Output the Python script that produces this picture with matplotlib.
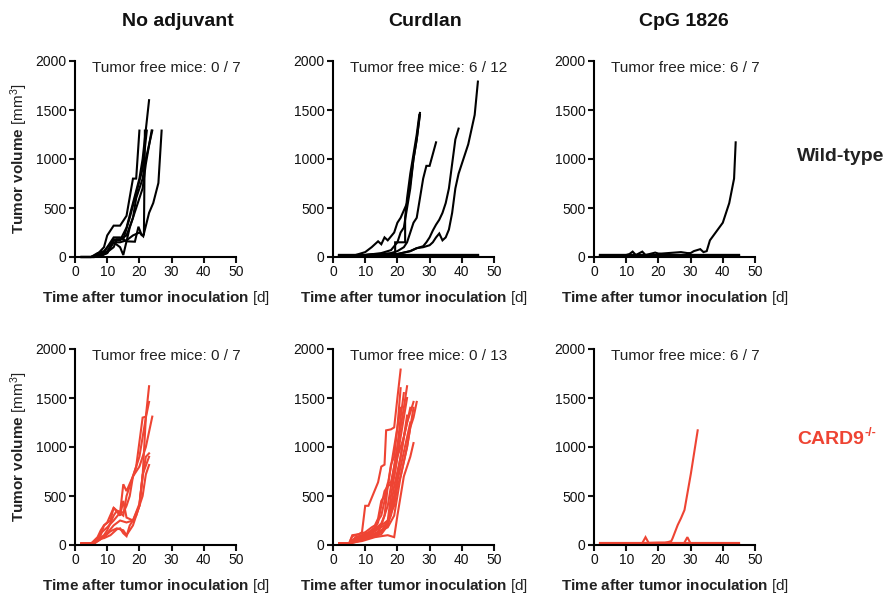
import matplotlib
matplotlib.use("Agg")
import matplotlib.pyplot as plt

plt.rcParams['font.family'] = ['Liberation Sans', 'DejaVu Sans']
plt.rcParams['mathtext.fontset'] = 'custom'
plt.rcParams['mathtext.rm'] = 'Liberation Sans'
plt.rcParams['mathtext.bf'] = 'Liberation Sans:bold'
plt.rcParams['mathtext.it'] = 'Liberation Sans:italic'

# ---------------- data ----------------
column_titles = ["No adjuvant", "Curdlan", "CpG 1826"]
row_labels = ["Wild-type", "CARD9"]
row_label_sup = ["", "-/-"]
tumor_free = [["0 / 7", "6 / 12", "6 / 7"], ["0 / 7", "0 / 13", "6 / 7"]]
x_ticks = [0, 10, 20, 30, 40, 50]
y_ticks = [0, 500, 1000, 1500, 2000]

# Wild-type, no adjuvant (7 mice)
wt_none_days = [
    [2, 5, 7, 9, 10, 12, 14, 16, 18, 19, 20],
    [2, 5, 7, 9, 12, 14, 16, 18.6, 19.7, 20.7, 21.4, 21.7],
    [2, 5, 7, 9, 12, 14, 16, 18, 20, 21, 23],
    [2, 6, 8, 10, 12, 13, 15, 17, 19, 21, 22.3],
    [2, 6, 8, 10, 12, 14, 15, 17, 19, 21, 22, 23.8],
    [2, 6, 8, 10, 12, 14, 16, 18, 19, 21, 22, 24],
    [2, 6, 8, 10, 12, 14, 16, 18, 20, 21.2, 23, 24.3, 25.9, 26.9],
]
wt_none_vols = [
    [0, 0, 30, 100, 220, 320, 320, 420, 800, 800, 1290],
    [0, 0, 20, 50, 200, 200, 160, 156, 309, 224, 230, 1290],
    [0, 0, 40, 60, 170, 170, 300, 550, 800, 1000, 1600],
    [0, 0, 10, 50, 100, 180, 180, 400, 650, 900, 1290],
    [0, 0, 20, 40, 150, 100, 20, 300, 500, 700, 950, 1290],
    [0, 0, 10, 40, 180, 180, 220, 400, 600, 800, 1000, 1290],
    [0, 0, 20, 60, 150, 150, 170, 220, 250, 211, 450, 551, 755, 1290],
]

# Wild-type, Curdlan (12 mice)
wt_curd_days = [
    [2, 7, 10, 12, 14, 15, 16, 17, 19, 20, 21, 23, 24, 25, 26, 27],
    [2, 10, 15, 18, 20, 21, 22, 23, 24, 25, 26, 27],
    [2, 10, 17, 19.3, 19.3, 22.4, 22.4, 23, 24, 25, 26, 26.8],
    [2, 10, 15, 18, 20, 22, 23, 24, 25, 26, 27, 28, 29, 30, 31, 32],
    [2, 10, 20, 24, 26, 28, 29, 30, 31, 32, 33, 34, 35, 36, 37, 38, 39],
    [2, 10, 20, 24, 26, 28, 30, 31, 32, 33, 34, 35, 36, 37, 38, 39, 40, 42, 44, 45],
    [2, 15, 30, 45],
    [2, 15, 30, 45],
    [2, 15, 30, 45],
    [2, 15, 30, 45],
    [2, 15, 30, 45],
    [2, 15, 30, 45],
]
wt_curd_vols = [
    [10, 20, 50, 100, 160, 130, 200, 170, 250, 350, 400, 550, 750, 1000, 1200, 1450],
    [10, 20, 40, 70, 150, 250, 300, 500, 700, 1000, 1200, 1470],
    [10, 20, 30, 30, 150, 150, 400, 600, 850, 1050, 1250, 1450],
    [10, 20, 30, 40, 60, 100, 150, 250, 350, 400, 600, 800, 930, 930, 1050, 1170],
    [10, 20, 30, 60, 90, 110, 150, 200, 270, 330, 380, 450, 550, 700, 950, 1200, 1310],
    [10, 20, 30, 60, 90, 100, 120, 150, 200, 240, 170, 200, 280, 450, 700, 850, 950, 1150, 1450, 1790],
    [15, 15, 15, 15],
    [20, 20, 20, 20],
    [25, 25, 25, 25],
    [18, 18, 18, 18],
    [22, 22, 22, 22],
    [12, 12, 12, 12],
]

# Wild-type, CpG 1826 (7 mice)
wt_cpg_days = [
    [2, 10, 11, 12, 13, 15, 16, 19, 20, 21, 25, 27, 28, 29, 30, 31, 33, 34, 35, 36, 38, 40, 42, 43.5, 44],
    [2, 15, 30, 45],
    [2, 15, 30, 45],
    [2, 15, 30, 45],
    [2, 15, 30, 45],
    [2, 15, 30, 45],
    [2, 15, 30, 45],
]
wt_cpg_vols = [
    [20, 20, 30, 55, 20, 55, 20, 45, 35, 35, 45, 50, 45, 40, 40, 60, 80, 50, 60, 170, 260, 350, 550, 800, 1170],
    [15, 15, 15, 15],
    [20, 20, 20, 20],
    [25, 25, 25, 25],
    [18, 18, 18, 18],
    [22, 22, 22, 22],
    [12, 12, 12, 12],
]

# CARD9-/-, no adjuvant (7 mice)
ko_none_days = [
    [2, 5, 7, 8, 9, 10, 12, 13, 15, 16, 17, 19, 21, 22, 23],
    [2, 5, 7, 8, 10, 12, 14, 15, 16, 18, 20, 21, 22, 23],
    [2, 5, 7, 9, 10, 12, 13, 15, 16, 17, 18, 20, 22, 24],
    [2, 5, 7, 9, 11, 13, 15, 16, 18, 20, 21, 22, 23],
    [2, 6, 7, 9, 11, 13, 14, 15, 16, 17, 19, 21, 22, 23],
    [2, 6, 8, 9, 11, 12, 14, 15, 16, 18, 20, 21, 23],
    [2, 6, 8, 10, 12, 14, 16, 18, 20, 21, 22],
]
ko_none_vols = [
    [15, 15, 80, 150, 200, 230, 380, 350, 300, 500, 600, 800, 1300, 1310, 1620],
    [15, 15, 60, 120, 180, 250, 330, 620, 550, 700, 900, 1100, 1300, 1460],
    [15, 15, 50, 100, 150, 300, 350, 330, 400, 500, 700, 800, 1000, 1310],
    [15, 15, 40, 80, 140, 170, 150, 100, 200, 400, 700, 900, 935],
    [15, 15, 60, 70, 100, 160, 170, 120, 90, 200, 300, 500, 720, 816],
    [15, 15, 100, 200, 250, 380, 300, 450, 280, 250, 400, 720, 900],
    [15, 15, 60, 120, 200, 250, 230, 250, 420, 700, 1300],
]

# CARD9-/-, Curdlan (13 mice)
ko_curd_days = [
    [2, 5, 6, 8, 9, 10, 11, 12, 13, 14, 15, 16, 16.5, 18, 19, 20, 21],
    [2, 5, 6, 8, 10, 12, 13, 14, 15, 16, 17, 18, 19, 20, 21, 22, 23],
    [2, 5, 7, 9, 11, 13, 14, 15, 16, 17, 18, 19, 20, 21],
    [2, 5, 7, 9, 11, 13, 15, 17, 18, 19, 20, 21, 22, 23, 24, 25],
    [2, 5, 7, 9, 11, 13, 15, 17, 19, 20, 21, 22, 23, 24, 25, 26],
    [2, 5, 7, 9, 11, 13, 15, 17, 18, 19, 20, 21, 22, 23],
    [2, 5, 7, 9, 11, 13, 15, 17, 18, 19, 20, 21, 22, 23, 24, 25],
    [2, 5, 7, 9, 11, 13, 15, 16, 17, 18, 19, 20, 21, 22, 23],
    [2, 5, 7, 9, 11, 13, 14, 15, 16, 17, 18, 19, 20, 21, 22],
    [2, 5, 7, 9, 11, 13, 15, 17, 18, 19, 20, 21, 22, 23, 24],
    [2, 5, 7, 9, 11, 13, 15, 17, 19, 20, 21, 22, 23, 24, 25],
    [2, 5, 7, 9, 11, 13, 14, 15, 16, 17, 18, 19, 20, 21],
    [2, 5, 7, 9, 11, 12, 13, 14, 15, 16, 17, 18, 19, 20, 21, 22, 23, 24],
]
ko_curd_vols = [
    [15, 15, 100, 110, 130, 400, 400, 480, 560, 640, 800, 820, 1170, 1180, 1200, 1500, 1790],
    [15, 15, 90, 110, 130, 180, 200, 270, 450, 500, 630, 640, 800, 1000, 1200, 1400, 1620],
    [15, 15, 80, 100, 120, 170, 230, 400, 550, 600, 820, 900, 1200, 1600],
    [15, 15, 50, 80, 100, 120, 150, 200, 400, 600, 750, 900, 1100, 1250, 1350, 1460],
    [15, 15, 40, 60, 80, 100, 150, 180, 300, 500, 700, 850, 1000, 1200, 1300, 1460],
    [15, 15, 30, 50, 70, 90, 110, 200, 350, 500, 700, 900, 1100, 1320],
    [15, 15, 30, 40, 60, 80, 90, 100, 90, 80, 300, 500, 700, 800, 900, 1040],
    [15, 15, 60, 90, 120, 160, 220, 300, 600, 620, 700, 900, 1100, 1300, 1500],
    [15, 15, 50, 70, 90, 110, 130, 200, 300, 400, 600, 800, 1000, 1300, 1550],
    [15, 15, 40, 60, 80, 100, 130, 250, 500, 700, 900, 1000, 1100, 1250, 1400],
    [15, 15, 40, 70, 100, 150, 200, 250, 400, 600, 700, 850, 1000, 1200, 1400],
    [15, 15, 70, 100, 130, 180, 250, 300, 450, 600, 800, 1000, 1200, 1400],
    [15, 15, 50, 80, 100, 120, 140, 160, 180, 200, 220, 300, 450, 650, 800, 950, 1100, 1250],
]

# CARD9-/-, CpG 1826 (7 mice)
ko_cpg_days = [
    [2, 10, 15, 20, 22, 23, 24, 24.4, 26, 27, 28.1, 30.1, 32.2],
    [2, 15, 16, 17, 45],
    [2, 28, 29, 30, 45],
    [2, 15, 30, 45],
    [2, 15, 30, 45],
    [2, 15, 30, 45],
    [2, 15, 30, 45],
]
ko_cpg_vols = [
    [15, 15, 20, 25, 25, 30, 40, 68, 204, 272, 357, 731, 1170],
    [15, 20, 80, 20, 15],
    [15, 20, 80, 15, 15],
    [15, 15, 15, 15],
    [20, 20, 20, 20],
    [12, 12, 12, 12],
    [18, 18, 18, 18],
]

panel_days = [[wt_none_days, wt_curd_days, wt_cpg_days],
              [ko_none_days, ko_curd_days, ko_cpg_days]]
panel_vols = [[wt_none_vols, wt_curd_vols, wt_cpg_vols],
              [ko_none_vols, ko_curd_vols, ko_cpg_vols]]
row_colors = ["#000000", "#EE4433"]
label_colors = ["#222222", "#EE4433"]

# ---------------- figure ----------------
W, H = 887, 598
fig = plt.figure(figsize=(W / 100, H / 100), dpi=100)

col_left_px = [75, 333, 594]
row_bottom_px = [257, 545]
ax_w_px, ax_h_px = 161, 196

for r in range(2):
    for c in range(3):
        ax = fig.add_axes([col_left_px[c] / W, 1 - row_bottom_px[r] / H,
                           ax_w_px / W, ax_h_px / H])
        for d, v in zip(panel_days[r][c], panel_vols[r][c]):
            ax.plot(d, v, color=row_colors[r], lw=1.5, solid_joinstyle='miter',
                    clip_on=False)
        ax.set_xlim(0, 50)
        ax.set_ylim(0, 2000)
        ax.set_xticks(x_ticks)
        ax.set_yticks(y_ticks)
        for s in ['top', 'right']:
            ax.spines[s].set_visible(False)
        for s in ['left', 'bottom']:
            ax.spines[s].set_linewidth(1.5)
        ax.tick_params(axis='both', length=4, width=1.5, labelsize=10,
                       pad=2, colors='#111111', labelcolor='#111111')
        ax.patch.set_alpha(0)
        ax.text(0.105, 0.965, "Tumor free mice: " + tumor_free[r][c],
                transform=ax.transAxes, ha='left', va='center', fontsize=11,
                color='#222222')
        ax.set_xlabel(r"$\mathbf{Time\ after\ tumor\ inoculation}$ [d]",
                      fontsize=11, labelpad=7, color='#222222')
        if c == 0:
            ax.set_ylabel(r"$\mathbf{Tumor\ volume}$ [mm$^3$]", fontsize=11,
                          labelpad=4, color='#222222')

title_x_px = [178, 425, 684]
for c in range(3):
    fig.text(title_x_px[c] / W, 1 - 22 / H, column_titles[c], ha='center',
             va='center', fontsize=14, fontweight='bold', color='#111111')

renderer = fig.canvas.get_renderer()
row_y_px = [157, 440]
for r in range(2):
    t = fig.text(797 / W, 1 - row_y_px[r] / H, row_labels[r], ha='left',
                 va='center', fontsize=14, fontweight='bold',
                 color=label_colors[r])
    if row_label_sup[r]:
        bb = t.get_window_extent(renderer)
        fig.text((bb.x1 + 1) / W, 1 - (row_y_px[r] - 7) / H, row_label_sup[r],
                 ha='left', va='center', fontsize=9, fontweight='bold',
                 color=label_colors[r])

fig.savefig("out.png", dpi=100)
